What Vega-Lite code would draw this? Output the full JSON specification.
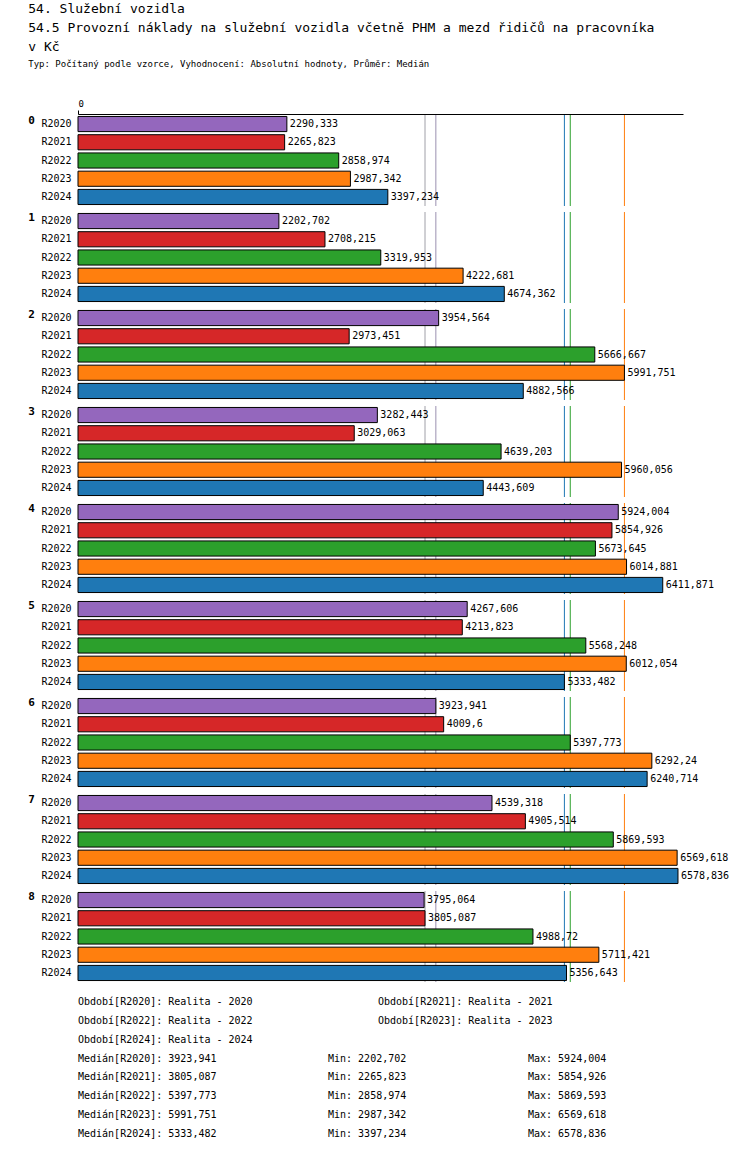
{
  "$schema": "https://vega.github.io/schema/vega-lite/v6.json",
  "padding": {"left": 28, "top": 3, "right": 5, "bottom": 5},
  "title": {
    "text": ["54. Služební vozidla", "54.5 Provozní náklady na služební vozidla včetně PHM a mezd řidičů na pracovníka", "v Kč"],
    "subtitle": "Typ: Počítaný podle vzorce, Vyhodnocení: Absolutní hodnoty, Průměr: Medián",
    "anchor": "start",
    "frame": "bounds",
    "font": "DejaVu Sans Mono",
    "fontSize": 13,
    "fontWeight": "normal",
    "lineHeight": 19,
    "subtitleFont": "DejaVu Sans Mono",
    "subtitleFontSize": 9,
    "subtitlePadding": 6,
    "offset": 30
  },
  "config": {
    "view": {"stroke": null},
    "font": "DejaVu Sans Mono",
    "axis": {"labelFont": "DejaVu Sans Mono", "labelColor": "black"}
  },
  "spacing": 10,
  "vconcat": [
    {
      "data": {
        "values": [
          {"g": 0, "y": "R2020", "v": 2290.333}, {"g": 0, "y": "R2021", "v": 2265.823}, {"g": 0, "y": "R2022", "v": 2858.974}, {"g": 0, "y": "R2023", "v": 2987.342}, {"g": 0, "y": "R2024", "v": 3397.234},
          {"g": 1, "y": "R2020", "v": 2202.702}, {"g": 1, "y": "R2021", "v": 2708.215}, {"g": 1, "y": "R2022", "v": 3319.953}, {"g": 1, "y": "R2023", "v": 4222.681}, {"g": 1, "y": "R2024", "v": 4674.362},
          {"g": 2, "y": "R2020", "v": 3954.564}, {"g": 2, "y": "R2021", "v": 2973.451}, {"g": 2, "y": "R2022", "v": 5666.667}, {"g": 2, "y": "R2023", "v": 5991.751}, {"g": 2, "y": "R2024", "v": 4882.566},
          {"g": 3, "y": "R2020", "v": 3282.443}, {"g": 3, "y": "R2021", "v": 3029.063}, {"g": 3, "y": "R2022", "v": 4639.203}, {"g": 3, "y": "R2023", "v": 5960.056}, {"g": 3, "y": "R2024", "v": 4443.609},
          {"g": 4, "y": "R2020", "v": 5924.004}, {"g": 4, "y": "R2021", "v": 5854.926}, {"g": 4, "y": "R2022", "v": 5673.645}, {"g": 4, "y": "R2023", "v": 6014.881}, {"g": 4, "y": "R2024", "v": 6411.871},
          {"g": 5, "y": "R2020", "v": 4267.606}, {"g": 5, "y": "R2021", "v": 4213.823}, {"g": 5, "y": "R2022", "v": 5568.248}, {"g": 5, "y": "R2023", "v": 6012.054}, {"g": 5, "y": "R2024", "v": 5333.482},
          {"g": 6, "y": "R2020", "v": 3923.941}, {"g": 6, "y": "R2021", "v": 4009.6}, {"g": 6, "y": "R2022", "v": 5397.773}, {"g": 6, "y": "R2023", "v": 6292.24}, {"g": 6, "y": "R2024", "v": 6240.714},
          {"g": 7, "y": "R2020", "v": 4539.318}, {"g": 7, "y": "R2021", "v": 4905.514}, {"g": 7, "y": "R2022", "v": 5869.593}, {"g": 7, "y": "R2023", "v": 6569.618}, {"g": 7, "y": "R2024", "v": 6578.836},
          {"g": 8, "y": "R2020", "v": 3795.064}, {"g": 8, "y": "R2021", "v": 3805.087}, {"g": 8, "y": "R2022", "v": 4988.72}, {"g": 8, "y": "R2023", "v": 5711.421}, {"g": 8, "y": "R2024", "v": 5356.643}
        ]
      },
      "transform": [
        {"joinaggregate": [{"op": "median", "field": "v", "as": "med"}], "groupby": ["y"]},
        {"calculate": "replace(toString(datum.v), '.', ',')", "as": "label"}
      ],
      "facet": {
        "row": {
          "field": "g", "type": "ordinal", "title": null,
          "header": {"labelOrient": "left", "labelAngle": 0, "labelAnchor": "end", "labelBaseline": "top", "labelAlign": "left", "labelFont": "DejaVu Sans Mono", "labelFontWeight": "bold", "labelFontSize": 11, "labelPadding": 6}
        }
      },
      "spacing": 4,
      "spec": {
        "width": 605,
        "height": 91,
        "encoding": {
          "y": {"field": "y", "type": "nominal", "title": null, "scale": {"paddingInner": 0.17, "paddingOuter": 0.08},
            "axis": {"domain": false, "ticks": false, "labelFontSize": 10, "labelPadding": 6}},
          "x": {"field": "v", "type": "quantitative", "title": null, "scale": {"domain": [0, 6634], "nice": false},
            "axis": {"orient": "top", "values": [0], "grid": false, "labelFontSize": 9, "tickSize": 4, "domainColor": "black", "tickColor": "black"}}
        },
        "layer": [
          {
            "mark": {"type": "rule", "strokeWidth": 1},
            "encoding": {
              "x": {"field": "med", "type": "quantitative"},
              "y": null,
              "stroke": {"field": "y", "type": "nominal", "legend": null,
                "scale": {"domain": ["R2020", "R2021", "R2022", "R2023", "R2024"], "range": ["#9a90b0", "#a0a0a8", "#2ca02c", "#ff7f0e", "#1f77b4"]}}
            }
          },
          {
            "mark": {"type": "bar", "stroke": "black", "strokeWidth": 1},
            "encoding": {
              "fill": {"field": "y", "type": "nominal", "legend": null,
                "scale": {"domain": ["R2020", "R2021", "R2022", "R2023", "R2024"], "range": ["#9467bd", "#d62728", "#2ca02c", "#ff7f0e", "#1f77b4"]}}
            }
          },
          {
            "mark": {"type": "text", "align": "left", "dx": 3, "fontSize": 10, "font": "DejaVu Sans Mono", "color": "black"},
            "encoding": {"text": {"field": "label"}}
          }
        ]
      }
    },
    {
      "width": 605,
      "height": 150,
      "data": {
        "values": [
          {"line": 0, "col": 0, "t": "Období[R2020]: Realita - 2020"},
          {"line": 0, "col": 1.2, "t": "Období[R2021]: Realita - 2021"},
          {"line": 1, "col": 0, "t": "Období[R2022]: Realita - 2022"},
          {"line": 1, "col": 1.2, "t": "Období[R2023]: Realita - 2023"},
          {"line": 2, "col": 0, "t": "Období[R2024]: Realita - 2024"},
          {"line": 3, "col": 0, "t": "Medián[R2020]: 3923,941"}, {"line": 3, "col": 1, "t": "Min: 2202,702"}, {"line": 3, "col": 1.8, "t": "Max: 5924,004"},
          {"line": 4, "col": 0, "t": "Medián[R2021]: 3805,087"}, {"line": 4, "col": 1, "t": "Min: 2265,823"}, {"line": 4, "col": 1.8, "t": "Max: 5854,926"},
          {"line": 5, "col": 0, "t": "Medián[R2022]: 5397,773"}, {"line": 5, "col": 1, "t": "Min: 2858,974"}, {"line": 5, "col": 1.8, "t": "Max: 5869,593"},
          {"line": 6, "col": 0, "t": "Medián[R2023]: 5991,751"}, {"line": 6, "col": 1, "t": "Min: 2987,342"}, {"line": 6, "col": 1.8, "t": "Max: 6569,618"},
          {"line": 7, "col": 0, "t": "Medián[R2024]: 5333,482"}, {"line": 7, "col": 1, "t": "Min: 3397,234"}, {"line": 7, "col": 1.8, "t": "Max: 6578,836"}
        ]
      },
      "mark": {"type": "text", "align": "left", "fontSize": 10, "font": "DejaVu Sans Mono", "color": "black"},
      "encoding": {
        "x": {"field": "col", "type": "quantitative", "scale": {"domain": [0, 2.42]}, "axis": null},
        "y": {"field": "line", "type": "ordinal", "scale": {"paddingOuter": 0}, "axis": null},
        "text": {"field": "t"}
      }
    }
  ]
}
